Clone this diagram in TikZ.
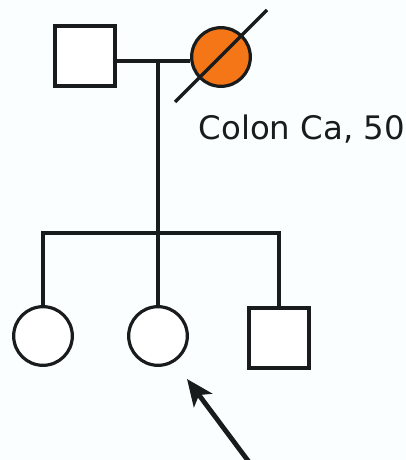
\documentclass[tikz,border=0pt]{standalone}
\usepackage{fontspec}
\setmainfont{DejaVu Sans}
\usetikzlibrary{arrows.meta}
\definecolor{bg}{RGB}{251,254,254}
\definecolor{ink}{RGB}{25,28,28}
\definecolor{affected}{RGB}{245,118,22}
\begin{document}
\begin{tikzpicture}[x=0.75pt,y=-0.75pt,
  line width=2.4pt, draw=ink,
  male/.style={draw=ink, fill=white, rectangle, minimum size=45pt, inner sep=0pt},
  female/.style={draw=ink, fill=white, circle, minimum size=44pt, inner sep=0pt},
  link/.style={draw=ink, line width=2.4pt},
  pointer/.style={draw=ink, line width=3.6pt, -{Stealth[length=20pt,width=17pt,inset=5pt]}}]
  \useasboundingbox (0,0) rectangle (406,460);
  \fill[bg] (0,0) rectangle (406,460);
  \clip (0,0) rectangle (406,460);

  % parents
  \node[male] (father) at (85,56) {};
  \node[female, fill=affected] (mother) at (221,57) {};
  \coordinate (dslashA) at (175,102);
  \coordinate (dslashB) at (267,10);
  \draw[link] (dslashA) -- (dslashB);
  \node[anchor=base west, font=\fontsize{24.3pt}{28pt}\selectfont, text=ink, inner sep=0pt] (dx) at (197,139) {Colon Ca, 50};

  % children
  \node[female] (child1) at (43,336) {};
  \node[female] (child2) at (158,336) {};
  \node[male] (child3) at (279,338) {};

  % marriage, descent and sibship lines
  \coordinate (mate) at (158,61);
  \coordinate (sib) at (158,233);
  \draw[link] (father.east |- mate) -- (mother.west |- mate);
  \draw[link] (mate) -- (sib);
  \draw[link] (child1.north) |- (sib) -| (child3.north);
  \draw[link] (sib) -- (child2.north);

  % proband pointer
  \coordinate (tail) at (252,466);
  \coordinate (tip) at (187,379);
  \draw[pointer] (tail) -- (tip);
\end{tikzpicture}
\end{document}
